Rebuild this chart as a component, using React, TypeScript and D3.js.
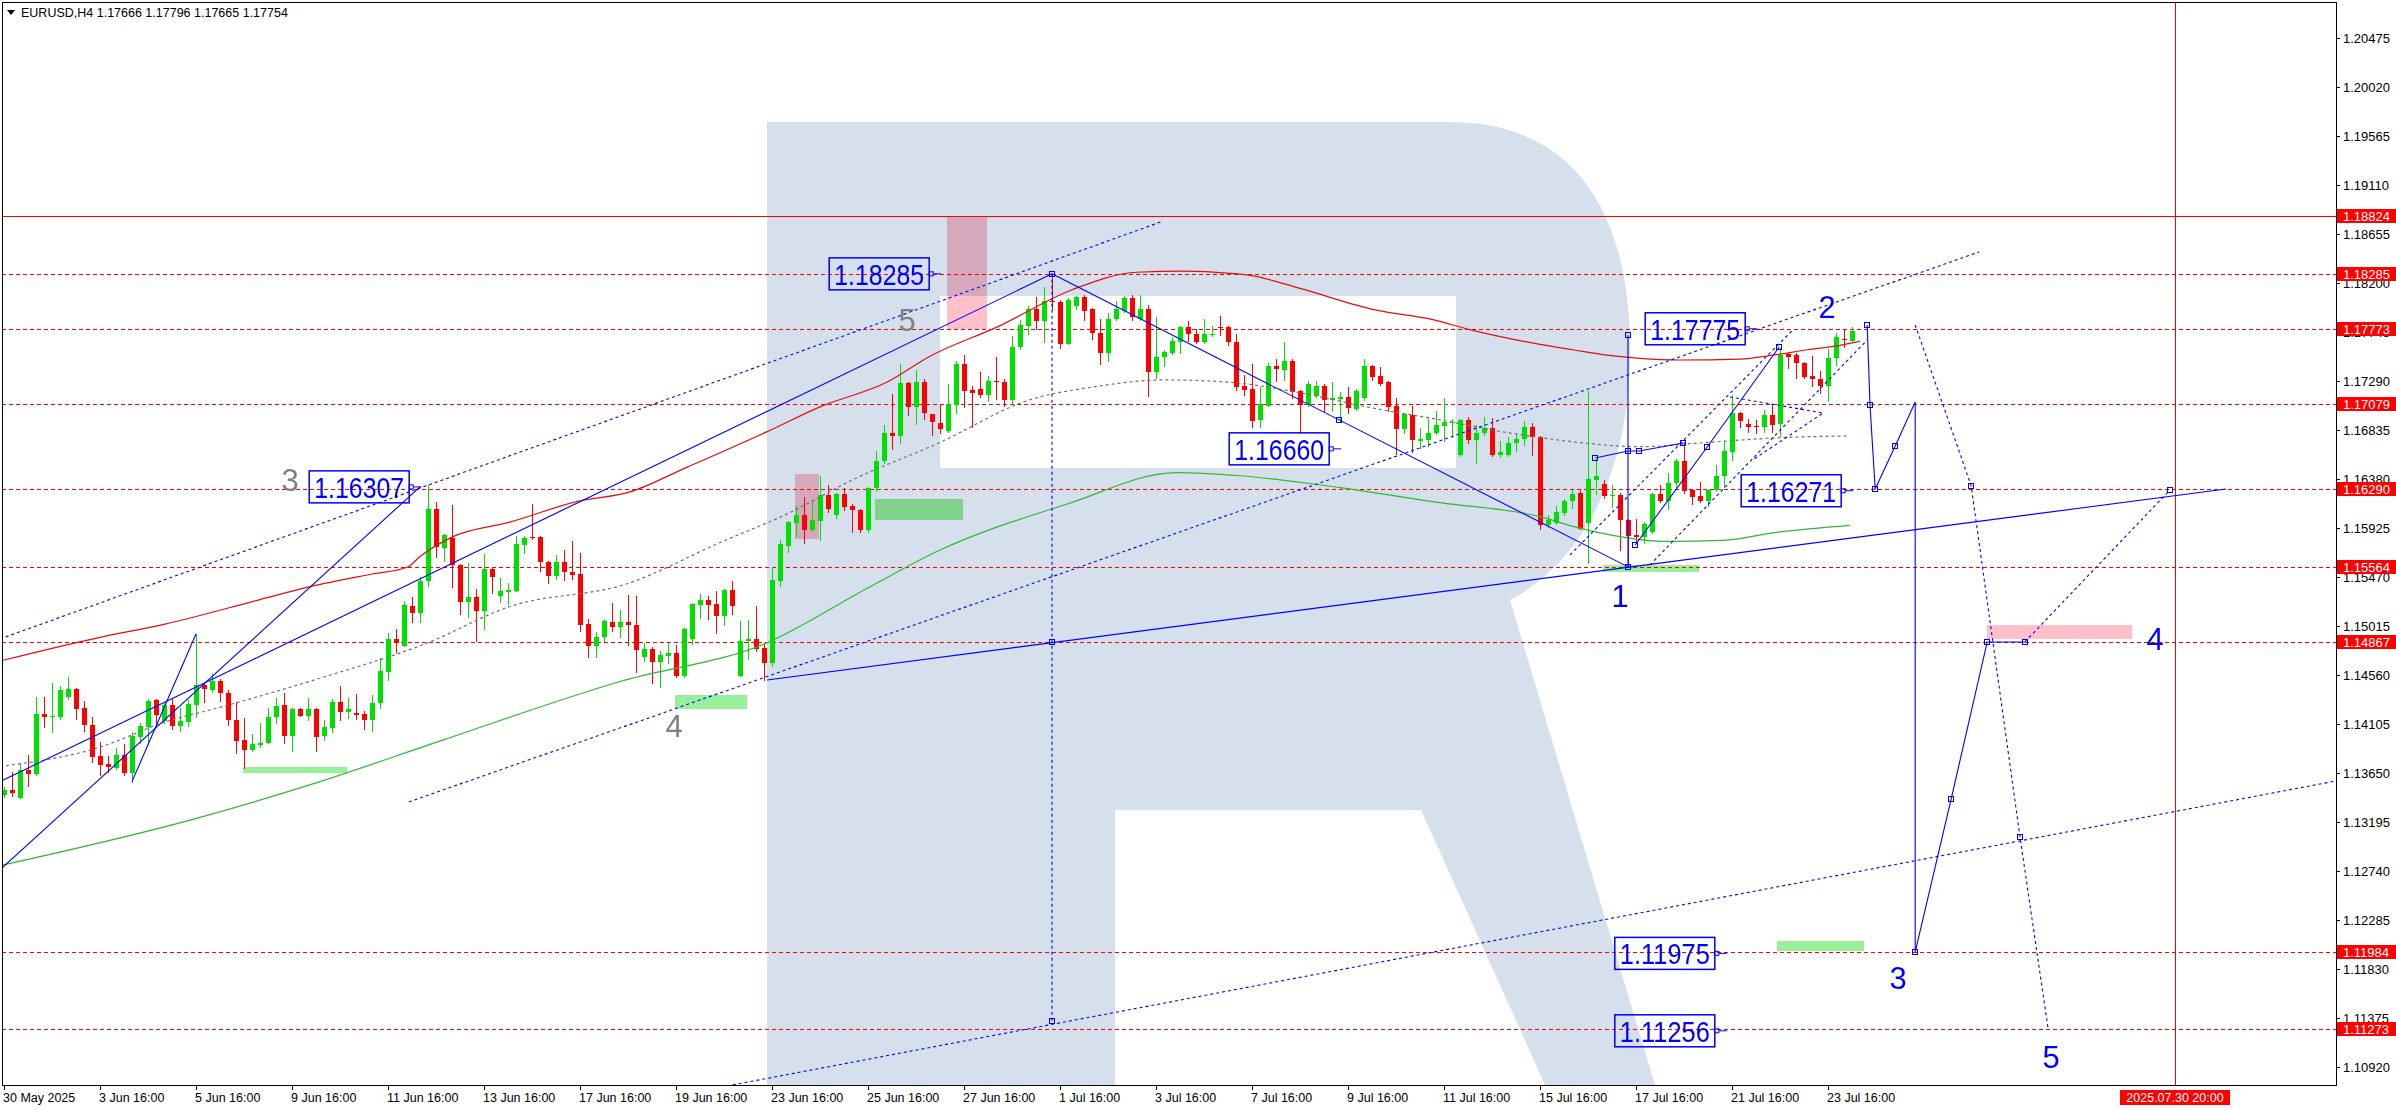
import React from "react";
import * as d3 from "d3";

// ---------- DATA ----------
const opens = [
  1.1345,1.1349,1.1342,1.1368,1.1364,1.1420,1.1417,1.1417,1.1436,1.1443,
  1.1425,1.1410,1.1381,1.1373,1.1370,1.1382,1.1365,1.1398,1.1408,1.1433,
  1.1413,1.1428,1.1409,1.1412,1.1428,1.1447,1.1442,1.1450,1.1439,1.1414,
  1.1396,1.1386,1.1391,1.1393,1.1417,1.1428,1.1399,1.1424,1.1418,1.1424,
  1.1399,1.1407,1.1431,1.1422,1.1421,1.1420,1.1414,1.1430,1.1459,1.1489,
  1.1483,1.1520,1.1514,1.1543,1.1610,1.1574,1.1583,1.1558,1.1524,1.1528,
  1.1515,1.1554,1.1529,1.1533,1.1534,1.1577,1.1584,1.1584,1.1561,1.1548,
  1.1561,1.1552,1.1550,1.1503,1.1483,1.1491,1.1505,1.1501,1.1505,1.1502,
  1.1473,1.1480,1.1468,1.1474,1.1476,1.1455,1.1489,1.1521,1.1526,1.1522,
  1.1511,1.1535,1.1455,1.1488,1.1489,1.1481,1.1467,1.1543,1.1576,1.1597,
  1.1605,1.1591,1.1599,1.1623,1.1605,1.1624,1.1613,1.1609,1.1591,1.1630,
  1.1655,1.1681,1.1678,1.1727,1.1705,1.1728,1.1698,1.1690,1.1683,1.1707,
  1.1745,1.1721,1.1722,1.1716,1.1729,1.1728,1.1711,1.1761,1.1780,1.1796,
  1.1785,1.1803,1.1802,1.1763,1.1799,1.1807,1.1796,1.1774,1.1755,1.1787,
  1.1794,1.1806,1.1787,1.1796,1.1737,1.1751,1.1755,1.1765,1.1779,1.1773,
  1.1765,1.1773,1.1779,1.1779,1.1765,1.1724,1.1722,1.1693,1.1706,1.1743,
  1.1739,1.1748,1.1720,1.1707,1.1715,1.1724,1.1711,1.1712,1.1714,1.1703,
  1.1713,1.1743,1.1734,1.1728,1.1706,1.1684,1.1697,1.1673,1.1674,1.1681,
  1.1687,1.1690,1.1660,1.1693,1.1674,1.1681,1.1685,1.1660,1.1660,1.1671,
  1.1675,1.1686,1.1677,1.1595,1.1597,1.1606,1.1618,1.1625,1.1597,1.1637,
  1.1633,1.1622,1.1623,1.1600,1.1586,1.1584,1.1589,1.1624,1.1618,1.1634,
  1.1655,1.1628,1.1622,1.1618,1.1628,1.1641,1.1663,1.1699,1.1689,1.1687,
  1.1686,1.1697,1.1689,1.1754,1.1753,1.1746,1.1734,1.1731,1.1724,1.1750,
  1.1768,1.17666,
];
const highs = [
  1.1352,1.1366,1.1374,1.1382,1.1436,1.1436,1.1449,1.1446,1.1454,1.1444,
  1.1432,1.1417,1.1394,1.1381,1.1388,1.1392,1.1403,1.1411,1.1434,1.1434,
  1.1430,1.1434,1.1425,1.1433,1.1494,1.1448,1.1457,1.1452,1.1442,1.1431,
  1.1416,1.1401,1.1411,1.1425,1.1435,1.1439,1.1425,1.1425,1.1435,1.1425,
  1.1414,1.1434,1.1446,1.1435,1.1438,1.1423,1.1437,1.1472,1.1495,1.1499,
  1.1525,1.1528,1.1547,1.1632,1.1617,1.1587,1.1614,1.1559,1.1560,1.1536,
  1.1568,1.1555,1.1546,1.1541,1.1585,1.1585,1.1615,1.1585,1.1562,1.1567,
  1.1572,1.1580,1.1569,1.1508,1.1496,1.1507,1.1523,1.1516,1.1530,1.1529,
  1.1486,1.1482,1.1478,1.1486,1.1484,1.1500,1.1523,1.1531,1.1529,1.1534,
  1.1536,1.1543,1.1506,1.1507,1.1520,1.1486,1.1556,1.1581,1.1599,1.1613,
  1.1621,1.1618,1.1641,1.1632,1.1625,1.1630,1.1615,1.1610,1.1631,1.1664,
  1.1688,1.1717,1.1745,1.1728,1.1739,1.1731,1.1698,1.1707,1.1726,1.1748,
  1.1753,1.1724,1.1737,1.1734,1.1751,1.1731,1.1771,1.1786,1.1799,1.1807,
  1.1816,1.1828,1.1804,1.1806,1.1808,1.1809,1.1797,1.1787,1.1792,1.1803,
  1.1808,1.1809,1.1809,1.1800,1.1788,1.1758,1.1770,1.1780,1.1785,1.1777,
  1.1787,1.1780,1.1789,1.1780,1.1773,1.1735,1.1745,1.1723,1.1746,1.1749,
  1.1765,1.1749,1.1721,1.1729,1.1729,1.1726,1.1728,1.1719,1.1723,1.1722,
  1.1749,1.1744,1.1742,1.1729,1.1713,1.1699,1.1706,1.1685,1.1694,1.1701,
  1.1713,1.1694,1.1694,1.1696,1.1688,1.1696,1.1695,1.1673,1.1677,1.1681,
  1.1692,1.1690,1.1678,1.1605,1.1613,1.1619,1.1628,1.1628,1.1720,1.1657,
  1.1637,1.1632,1.1625,1.1601,1.1601,1.1598,1.1625,1.1632,1.1644,1.1657,
  1.1672,1.1629,1.1635,1.1629,1.1651,1.1672,1.1716,1.1700,1.1694,1.1693,
  1.1702,1.1708,1.1760,1.1755,1.1755,1.1747,1.1752,1.1738,1.1759,1.1774,
  1.1777,1.17796,
];
const lows = [
  1.1343,1.1344,1.1342,1.1353,1.1363,1.1408,1.1403,1.1415,1.1434,1.1415,
  1.1404,1.1375,1.1363,1.1366,1.1369,1.1363,1.1357,1.1393,1.1392,1.1411,
  1.1411,1.1406,1.1404,1.1409,1.1417,1.1431,1.1440,1.1432,1.1410,1.1384,
  1.1370,1.1385,1.1389,1.1393,1.1411,1.1393,1.1385,1.1418,1.1414,1.1385,
  1.1396,1.1403,1.1414,1.1416,1.1415,1.1406,1.1404,1.1425,1.1451,1.1477,
  1.1483,1.1505,1.1505,1.1539,1.1566,1.1562,1.1538,1.1513,1.1510,1.1488,
  1.1499,1.1532,1.1524,1.1522,1.1534,1.1569,1.1582,1.1553,1.1541,1.1545,
  1.1544,1.1545,1.1497,1.1473,1.1473,1.1488,1.1497,1.1491,1.1484,1.1459,
  1.1469,1.1449,1.1445,1.1467,1.1454,1.1454,1.1485,1.1509,1.1508,1.1495,
  1.1502,1.1513,1.1455,1.1471,1.1478,1.1451,1.1464,1.1539,1.1570,1.1585,
  1.1579,1.1590,1.1581,1.1607,1.1602,1.1609,1.1589,1.1589,1.1589,1.1627,
  1.1653,1.1666,1.1671,1.1697,1.1689,1.1694,1.1679,1.1681,1.1682,1.1699,
  1.1705,1.1686,1.1714,1.1710,1.1712,1.1706,1.1708,1.1759,1.1773,1.1777,
  1.1765,1.1796,1.1760,1.1763,1.1796,1.1786,1.1768,1.1745,1.1748,1.1786,
  1.1793,1.1786,1.1786,1.1715,1.1732,1.1743,1.1754,1.1755,1.1766,1.1764,
  1.1764,1.1771,1.1772,1.1762,1.1721,1.1716,1.1686,1.1686,1.1706,1.1729,
  1.1730,1.1713,1.1681,1.1706,1.1714,1.1701,1.1701,1.1691,1.1699,1.1702,
  1.1711,1.1730,1.1725,1.1701,1.1661,1.1681,1.1663,1.1667,1.1669,1.1680,
  1.1673,1.1677,1.1659,1.1671,1.1653,1.1679,1.1659,1.1658,1.1659,1.1664,
  1.1670,1.1660,1.1592,1.1593,1.1596,1.1605,1.1611,1.1592,1.1560,1.1624,
  1.1620,1.1612,1.1572,1.1556,1.1579,1.1579,1.1588,1.1617,1.1610,1.1631,
  1.1625,1.1615,1.1617,1.1613,1.1627,1.1631,1.1656,1.1686,1.1682,1.1681,
  1.1682,1.1682,1.1678,1.1741,1.1732,1.1732,1.1724,1.1718,1.1710,1.1744,
  1.1761,1.17665,
];
const closes = [
  1.1349,1.1346,1.1368,1.1364,1.1420,1.1417,1.1418,1.1442,1.1443,1.1424,
  1.1410,1.1380,1.1372,1.1371,1.1382,1.1365,1.1399,1.1409,1.1432,1.1419,
  1.1428,1.1409,1.1413,1.1429,1.1447,1.1443,1.1450,1.1439,1.1414,1.1395,
  1.1386,1.1392,1.1393,1.1417,1.1427,1.1399,1.1424,1.1418,1.1424,1.1398,
  1.1408,1.1431,1.1422,1.1424,1.1419,1.1414,1.1430,1.1460,1.1489,1.1486,
  1.1521,1.1514,1.1543,1.1610,1.1575,1.1586,1.1558,1.1524,1.1528,1.1515,
  1.1554,1.1547,1.1534,1.1535,1.1578,1.1583,1.1583,1.1561,1.1548,1.1561,
  1.1552,1.1549,1.1502,1.1483,1.1491,1.1506,1.1501,1.1505,1.1502,1.1479,
  1.1480,1.1468,1.1475,1.1476,1.1455,1.1499,1.1522,1.1526,1.1521,1.1511,
  1.1535,1.1520,1.1488,1.1489,1.1480,1.1467,1.1544,1.1578,1.1598,1.1605,
  1.1591,1.1600,1.1623,1.1610,1.1624,1.1612,1.1609,1.1591,1.1630,1.1655,
  1.1681,1.1678,1.1727,1.1705,1.1728,1.1699,1.1691,1.1684,1.1708,1.1745,
  1.1720,1.1718,1.1716,1.1729,1.1728,1.1711,1.1761,1.1781,1.1796,1.1785,
  1.1803,1.1802,1.1763,1.1804,1.1807,1.1794,1.1774,1.1755,1.1787,1.1796,
  1.1806,1.1788,1.1796,1.1737,1.1751,1.1756,1.1766,1.1779,1.1773,1.1765,
  1.1773,1.1773,1.1778,1.1765,1.1723,1.1721,1.1692,1.1708,1.1743,1.1740,
  1.1748,1.1719,1.1707,1.1726,1.1724,1.1711,1.1713,1.1714,1.1704,1.1720,
  1.1743,1.1733,1.1726,1.1705,1.1684,1.1698,1.1674,1.1675,1.1681,1.1688,
  1.1691,1.1691,1.1693,1.1674,1.1681,1.1685,1.1660,1.1663,1.1671,1.1675,
  1.1686,1.1677,1.1595,1.1600,1.1607,1.1618,1.1624,1.1592,1.1638,1.1641,
  1.1622,1.1623,1.1600,1.1585,1.1584,1.1596,1.1624,1.1618,1.1634,1.1655,
  1.1627,1.1621,1.1618,1.1628,1.1641,1.1664,1.1699,1.1692,1.1686,1.1686,
  1.1697,1.1688,1.1753,1.1751,1.1746,1.1733,1.1731,1.1724,1.1750,1.1770,
  1.1767,1.17754,
];

const timeLabels = [
  "30 May 2025","3 Jun 16:00","5 Jun 16:00","9 Jun 16:00","11 Jun 16:00","13 Jun 16:00",
  "17 Jun 16:00","19 Jun 16:00","23 Jun 16:00","25 Jun 16:00","27 Jun 16:00","1 Jul 16:00",
  "3 Jul 16:00","7 Jul 16:00","9 Jul 16:00","11 Jul 16:00","15 Jul 16:00","17 Jul 16:00",
  "21 Jul 16:00","23 Jul 16:00",
];
const timeLabelBars = [0,12,24,36,48,60,72,84,96,108,120,132,144,156,168,180,192,204,216,228];

const priceTicks = [
  1.20475,1.2002,1.19565,1.1911,1.18655,1.182,1.17745,1.1729,1.16835,1.1638,1.15925,
  1.1547,1.15015,1.1456,1.14105,1.1365,1.13195,1.1274,1.12285,1.1183,1.11375,1.1092,
];

const dashedLevels = [1.18285,1.17773,1.17079,1.1629,1.15564,1.14867,1.11984,1.11273];
const solidLevel = 1.18824;
const axisMarks = [1.18824,1.18285,1.17773,1.17079,1.1629,1.15564,1.14867,1.11984,1.11273];

const nowBar = 271.4;
const nowLabel = "2025.07.30 20:00";
const header = "EURUSD,H4  1.17666 1.17796 1.17665 1.17754";

// moving averages: [bar, price]
const maRed: [number, number][] = [
  [-0.5,1.1469],[12,1.1491],[20,1.1503],[32,1.1526],[38.25,1.1538],[46.2,1.155],[50.4,1.1556],
  [52,1.1566],[56,1.1584],[63.25,1.1598],[71.6,1.1617],[78.25,1.1626],[85.4,1.1649],[95.4,1.1682],
  [102,1.1705],[110.4,1.1728],[115.75,1.1752],[124.1,1.1779],[133.6,1.1814],[141.6,1.183],
  [147.4,1.1831],[153.25,1.1829],[155.75,1.1827],[162,1.1815],[171.4,1.1795],[178.6,1.1786],
  [183.6,1.1776],[192,1.1763],[196.1,1.1758],[200.4,1.1753],[204.5,1.175],[209.5,1.17485],
  [217,1.17494],[221.1,1.1753],[225.4,1.1758],[229.5,1.1762],[232,1.1766],
];
const maGreen: [number, number][] = [
  [-0.5,1.1279],[23.6,1.1322],[39.5,1.1357],[55,1.1396],[77,1.145],[95.4,1.1486],[108.25,1.1538],
  [117,1.1572],[133,1.1615],[146.6,1.1644],[154.5,1.1641],[167,1.163],[179.5,1.1616],[192,1.1603],
  [196.1,1.1594],[202.4,1.1584],[207.4,1.158],[214.9,1.1581],[221.1,1.1588],[230.75,1.1595],
];
const maGray: [number, number][] = [
  [-0.5,1.1371],[12,1.1389],[20,1.1412],[27,1.1426],[39.5,1.1453],[53,1.1486],[63,1.1519],
  [78,1.1541],[89.5,1.1579],[98,1.1606],[106,1.1637],[117,1.1672],[128,1.1711],[136.6,1.1724],
  [145,1.173],[153,1.1728],[162,1.1718],[171,1.1704],[179.5,1.1693],[188,1.1681],[194.5,1.1674],
  [204.5,1.1668],[213,1.1672],[221,1.1676],[230.4,1.1678],
];

// wave annotations
const solidPaths: [number, number][][] = [
  [[-0.5,1.1275],[52,1.16307]],
  [[-0.5,1.1357],[131,1.18285]],
  [[16,1.1357],[24,1.1494]],
  [[131,1.18285],[203,1.15564]],
  [[95.4,1.14514],[277.75,1.16287]],
  [[203,1.17717],[203,1.15564]],
  [[198.9,1.16575],[203,1.1664],[204.4,1.1664],[209.9,1.16715]],
  [[203.9,1.15767],[212.9,1.16677],[221.9,1.17606]],
  [[232.9,1.1781],[233.25,1.17067],[233.9,1.16287],[236.4,1.16687],[238.9,1.17095],
   [238.9,1.11988],[243.4,1.13409],[247.9,1.14867],[252.6,1.14867]],
];
const dottedPaths: [number, number][][] = [
  [[-0.5,1.14895],[144.6,1.18767]],
  [[50.6,1.13381],[246.9,1.18488]],
  [[91.1,1.10754],[291.5,1.13576]],
  [[131,1.18285],[131,1.1135]],
  [[195.75,1.15675],[223.6,1.17764]],
  [[205.75,1.15582],[232.9,1.17671]],
  [[215.75,1.17142],[227.4,1.16993],[218.6,1.16557]],
  [[238.9,1.1781],[245.9,1.16315],[252,1.13056],[255.5,1.11283]],
  [[252.6,1.14867],[270.75,1.16278]],
];
const markerPts: [number, number][] = [
  [131,1.18285],[166.9,1.16928],[131,1.14867],[131,1.1135],[203,1.17717],[203,1.1664],
  [203,1.15564],[198.9,1.16575],[204.4,1.1664],[209.9,1.16715],[203.9,1.15767],[212.9,1.16677],
  [221.9,1.17606],[232.9,1.1781],[233.25,1.17067],[233.9,1.16287],[236.4,1.16687],[238.9,1.11988],
  [243.4,1.13409],[247.9,1.14867],[245.9,1.16315],[252,1.13056],[252.6,1.14867],[270.75,1.16278],
];

const boxTexts = ["1.18285","1.16307","1.16660","1.17775","1.16271","1.11975","1.11256"];
const boxBars = [109.4,44.4,159.4,211.4,223.4,207.6,207.6];
const boxPrices = [1.18285,1.16307,1.1666,1.17775,1.16271,1.11975,1.11256];

const waveTexts = ["1","2","3","4","5"];
const waveBars = [202,227.9,236.75,268.9,255.9];
const wavePrices = [1.15294,1.17977,1.11747,1.14895,1.11013];
const grayTexts = ["3","4","5"];
const grayBars = [35.75,83.75,112.9];
const grayPrices = [1.16371,1.14087,1.17857];

// zones: [bar0, bar1, priceLow, priceHigh]
const pinkZones: [number, number, number, number][] = [
  [117.9,122.9,1.17773,1.18824],
  [98.9,101.9,1.15823,1.16427],
  [247.9,266,1.14895,1.15025],
];
const greenZones: [number, number, number, number][] = [
  [29.9,42.9,1.1365,1.13706],
  [83.9,92.9,1.14245,1.14375],
  [108.9,119.9,1.16,1.16195],
  [199.9,211.9,1.15517,1.15582],
  [221.6,232.5,1.11998,1.12091],
];

// ---------- CHART ----------
const W = 2396, H = 1110, AX = 2336, AY = 1085;
const FONT = "'Liberation Sans', Arial, sans-serif";
const BULL = "#00e000", BEAR = "#ff0000", BLUE = "#0000ff";

export default function App() {
  const x = d3.scaleLinear().domain([-0.5, 291.5]).range([0, AX]);
  const y = d3.scaleLinear().domain([1.1092, 1.20475]).range([1067, 38]);
  const px = (i: number) => Math.round(x(i));
  const py = (p: number) => Math.round(y(p));
  const line = d3.line<[number, number]>().x(d => x(d[0])).y(d => y(d[1]));
  const smooth = d3.line<[number, number]>().x(d => x(d[0])).y(d => y(d[1])).curve(d3.curveMonotoneX);

  const rOuter = "M767,122 H1450 C1565,122 1630,200 1630,350 C1630,470 1585,560 1510,600 L1655,1085 H1545 L1421,810 H1115 V1085 H767 Z";
  const rHole = "M940,296 H1456 V468 H940 Z";

  return (
    <svg width={W} height={H} style={{ position: "absolute", left: 0, top: 0 }} fontFamily={FONT}>
      <defs>
        <clipPath id="plot"><rect x={2} y={2} width={AX - 2} height={AY - 2} /></clipPath>
      </defs>
      <rect width={W} height={H} fill="#fff" />
      <g clipPath="url(#plot)">
        <path d={rOuter + " " + rHole} fill="#d6e0ec" fillRule="evenodd" />
        <g style={{ mixBlendMode: "multiply" }}>
          {pinkZones.map((z, k) => (
            <rect key={"pz" + k} x={px(z[0])} y={py(z[3])} width={px(z[1]) - px(z[0])} height={py(z[2]) - py(z[3])} fill="#ffc0cb" />
          ))}
          {greenZones.map((z, k) => (
            <rect key={"gz" + k} x={px(z[0])} y={py(z[3])} width={px(z[1]) - px(z[0])} height={Math.max(5, py(z[2]) - py(z[3]))} fill="#98f098" />
          ))}
        </g>
        {dashedLevels.map((p, k) => (
          <line key={"dl" + k} x1={2} x2={AX} y1={py(p) + 0.5} y2={py(p) + 0.5} stroke="#f00" strokeDasharray="4 3" />
        ))}
        <line x1={2} x2={AX} y1={py(solidLevel) + 0.5} y2={py(solidLevel) + 0.5} stroke="#f00" />
        <line x1={px(nowBar) + 0.5} x2={px(nowBar) + 0.5} y1={2} y2={AY} stroke="#f00" />

        {opens.map((o, i) => {
          const c = closes[i];
          const col = c >= o ? BULL : BEAR;
          const cx = px(i);
          const top = py(Math.max(o, c));
          const bot = py(Math.min(o, c));
          return (
            <g key={"c" + i}>
              <line x1={cx + 0.5} x2={cx + 0.5} y1={py(highs[i])} y2={py(lows[i]) + 1} stroke={col} />
              <rect x={cx - 2} y={top} width={5} height={Math.max(1, bot - top)} fill={col} />
            </g>
          );
        })}

        <path d={smooth(maRed) || ""} fill="none" stroke="#e01010" strokeWidth={1.2} />
        <path d={smooth(maGreen) || ""} fill="none" stroke="#30b830" strokeWidth={1.2} />
        <path d={smooth(maGray) || ""} fill="none" stroke="#707070" strokeWidth={1.2} strokeDasharray="3 3" />

        {solidPaths.map((pts, k) => (
          <path key={"sp" + k} d={line(pts) || ""} fill="none" stroke={BLUE} strokeWidth={1.1} />
        ))}
        {dottedPaths.map((pts, k) => (
          <path key={"dp" + k} d={line(pts) || ""} fill="none" stroke={BLUE} strokeWidth={1.1} strokeDasharray="3 3" />
        ))}
        {markerPts.map((m, k) => (
          <rect key={"m" + k} x={px(m[0]) - 2.5} y={py(m[1]) - 2.5} width={5} height={5} fill="none" stroke={BLUE} />
        ))}

        {boxTexts.map((t, k) => {
          const cx = x(boxBars[k]);
          const cy = y(boxPrices[k]);
          return (
            <g key={"bx" + k}>
              <rect x={cx - 50} y={cy - 16} width={100} height={32} fill="none" stroke={BLUE} strokeWidth={1.5} />
              <rect x={cx + 50} y={cy - 2} width={4} height={4} fill="none" stroke={BLUE} />
              <line x1={cx + 54} x2={cx + 62} y1={cy} y2={cy} stroke={BLUE} />
              <text x={cx} y={cy + 11} textAnchor="middle" fontSize={30} fill={BLUE} textLength={90} lengthAdjust="spacingAndGlyphs">{t}</text>
            </g>
          );
        })}
        {waveTexts.map((t, k) => (
          <text key={"wt" + k} x={x(waveBars[k])} y={y(wavePrices[k]) + 11} textAnchor="middle" fontSize={31} fill={BLUE}>{t}</text>
        ))}
        {grayTexts.map((t, k) => (
          <text key={"gt" + k} x={x(grayBars[k])} y={y(grayPrices[k]) + 11} textAnchor="middle" fontSize={31} fill="#808080">{t}</text>
        ))}
      </g>

      {/* frame and axes */}
      <line x1={2.5} x2={2.5} y1={2} y2={AY} stroke="#000" />
      <line x1={2} x2={AX} y1={2.5} y2={2.5} stroke="#000" />
      <line x1={AX + 0.5} x2={AX + 0.5} y1={2} y2={AY + 1} stroke="#000" />
      <line x1={2} x2={AX + 1} y1={AY + 0.5} y2={AY + 0.5} stroke="#000" />

      {priceTicks.map((p, k) => (
        <g key={"pt" + k}>
          <line x1={AX} x2={AX + 4} y1={py(p) + 0.5} y2={py(p) + 0.5} stroke="#000" />
          <text x={AX + 7} y={py(p) + 5} fontSize={13} fill="#000">{p.toFixed(5)}</text>
        </g>
      ))}
      {axisMarks.map((p, k) => (
        <g key={"am" + k}>
          <rect x={AX + 1} y={py(p) - 7} width={W - AX - 1} height={14} fill="#f00" />
          <text x={AX + 7} y={py(p) + 5} fontSize={13} fill="#fff">{p.toFixed(5)}</text>
        </g>
      ))}

      {timeLabels.map((t, k) => (
        <g key={"tl" + k}>
          <line x1={px(timeLabelBars[k]) + 0.5} x2={px(timeLabelBars[k]) + 0.5} y1={AY} y2={AY + 5} stroke="#000" />
          <text x={px(timeLabelBars[k]) - 1} y={AY + 17} fontSize={12.5} fill="#000">{t}</text>
        </g>
      ))}
      <rect x={px(nowBar) - 55} y={AY + 5} width={110} height={15} fill="#f00" />
      <text x={px(nowBar)} y={AY + 17} fontSize={12.5} fill="#fff" textAnchor="middle">{nowLabel}</text>

      <path d="M7,10 L15,10 L11,15 Z" fill="#000" />
      <text x={21} y={17} fontSize={12.5} fill="#000">{header}</text>
    </svg>
  );
}
